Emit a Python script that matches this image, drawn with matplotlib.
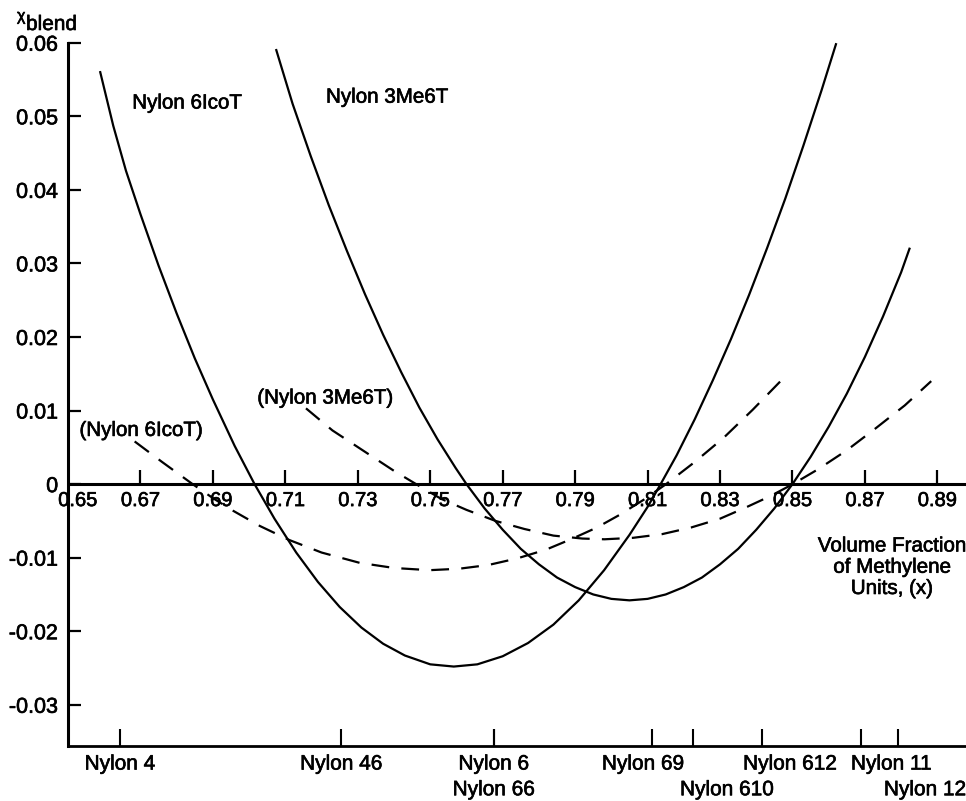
import numpy as np
import matplotlib
matplotlib.use("Agg")
import matplotlib.pyplot as plt
import matplotlib.patheffects as pe

plt.rcParams['font.family'] = ['Liberation Sans', 'DejaVu Sans']
plt.rcParams['axes.unicode_minus'] = False

# ---------- data ----------
# solid: Nylon 6IcoT
icot_x = [0.6589, 0.6625, 0.6660, 0.6700, 0.6750, 0.6800, 0.6850, 0.6900, 0.6960, 0.7015,
          0.7070, 0.7130, 0.7190, 0.7250, 0.7310, 0.7370, 0.7430, 0.7500, 0.7565, 0.7630,
          0.7700, 0.7770, 0.7840, 0.7910, 0.7980, 0.8050, 0.8100, 0.8136, 0.8180, 0.8230,
          0.8280, 0.8330, 0.8380, 0.8430, 0.8480, 0.8530, 0.8580, 0.8620]
icot_y = [0.0560, 0.0487, 0.0426, 0.0367, 0.0297, 0.0232, 0.0171, 0.0115, 0.0052, 0.0000,
          -0.0047, -0.0093, -0.0133, -0.0167, -0.0195, -0.0217, -0.0233, -0.0245, -0.0248, -0.0245,
          -0.0234, -0.0216, -0.0191, -0.0158, -0.0117, -0.0069, -0.0031, 0.0000, 0.0039, 0.0088,
          0.0141, 0.0197, 0.0257, 0.0321, 0.0388, 0.0460, 0.0535, 0.0598]

# solid: Nylon 3Me6T
me6t_x = [0.7075, 0.7120, 0.7170, 0.7220, 0.7270, 0.7320, 0.7370, 0.7420, 0.7470, 0.7520,
          0.7570, 0.7600, 0.7650, 0.7700, 0.7750, 0.7800, 0.7850, 0.7900, 0.7950, 0.8000,
          0.8050, 0.8100, 0.8150, 0.8200, 0.8250, 0.8300, 0.8350, 0.8400, 0.8450, 0.8500,
          0.8550, 0.8600, 0.8650, 0.8700, 0.8750, 0.8800, 0.8823]
me6t_y = [0.0590, 0.0517, 0.0446, 0.0379, 0.0317, 0.0258, 0.0203, 0.0152, 0.0104, 0.0061,
          0.0022, 0.0000, -0.0033, -0.0062, -0.0088, -0.0109, -0.0127, -0.0140, -0.0150, -0.0156,
          -0.0158, -0.0156, -0.0150, -0.0140, -0.0127, -0.0109, -0.0088, -0.0062, -0.0033, 0.0000,
          0.0037, 0.0078, 0.0123, 0.0173, 0.0228, 0.0288, 0.0320]

# dashed: (Nylon 6IcoT)
icot_d_x = [0.6684, 0.6760, 0.6844, 0.6900, 0.6955, 0.7030, 0.7111, 0.7200, 0.7305, 0.7400,
            0.7498, 0.7580, 0.7660, 0.7740, 0.7820, 0.7893, 0.7960, 0.8022, 0.8090, 0.8151,
            0.8230, 0.8310, 0.8390, 0.8473]
icot_d_y = [0.0058, 0.0030, 0.0000, -0.0019, -0.0036, -0.0057, -0.0076, -0.0093, -0.0107, -0.0114,
            -0.0117, -0.0115, -0.0110, -0.0101, -0.0089, -0.0074, -0.0059, -0.0042, -0.0021, 0.0000,
            0.0030, 0.0063, 0.0101, 0.0143]

# dashed: (Nylon 3Me6T)
me6t_d_x = [0.7157, 0.7230, 0.7332, 0.7400, 0.7461, 0.7530, 0.7600, 0.7680, 0.7760, 0.7840,
            0.7920, 0.7981, 0.8060, 0.8140, 0.8220, 0.8300, 0.8370, 0.8440, 0.8501, 0.8570,
            0.8650, 0.8730, 0.8810, 0.8883]
me6t_d_y = [0.0103, 0.0073, 0.0040, 0.0018, 0.0000, -0.0020, -0.0035, -0.0050, -0.0061, -0.0070,
            -0.0074, -0.0075, -0.0073, -0.0068, -0.0059, -0.0047, -0.0032, -0.0016, 0.0000, 0.0020,
            0.0046, 0.0076, 0.0107, 0.0140]

x_ticks = [0.65, 0.67, 0.69, 0.71, 0.73, 0.75, 0.77, 0.79, 0.81, 0.83, 0.85, 0.87, 0.89]
y_ticks = [0.06, 0.05, 0.04, 0.03, 0.02, 0.01, 0.0, -0.01, -0.02, -0.03]
y_labels = ["0.06", "0.05", "0.04", "0.03", "0.02", "0.01", "0", "-0.01", "-0.02", "-0.03"]

nylon_names = ["Nylon 4", "Nylon 46", "Nylon 6", "Nylon 66", "Nylon 69",
               "Nylon 610", "Nylon 612", "Nylon 11", "Nylon 12"]
nylon_x = [0.6644, 0.7255, 0.7676, 0.7676, 0.8113, 0.8226, 0.8417, 0.8688, 0.8792]
# label placement (row, horizontal shift in points)
nylon_row = [0, 0, 0, 1, 0, 1, 0, 0, 1]
nylon_dx = [0, 0, 0, 0, -6.5, 24.5, 20, 22.3, 19.4]

# heavier "scanned print" look for the lettering
ink = [pe.withStroke(linewidth=0.45, foreground="black")]

# ---------- figure ----------
fig = plt.figure(figsize=(9.66, 8.01), dpi=100)
ax = fig.add_axes([68 / 966, 55 / 801, 898 / 966, (746 - 42) / 801])
ymin, ymax = -0.0356, 0.0601
ax.set_xlim(0.65, 0.8979)
ax.set_ylim(ymin, ymax)

lw = 1.6
ax.plot(icot_x, icot_y, color="black", lw=lw, clip_on=False)
ax.plot(me6t_x, me6t_y, color="black", lw=lw, clip_on=False)
ax.plot(icot_d_x, icot_d_y, color="black", lw=lw, dashes=(8, 5.5), clip_on=False)
ax.plot(me6t_d_x, me6t_d_y, color="black", lw=lw, dashes=(8, 5.5), clip_on=False)

# zero line acting as x axis
ax.axhline(0, color="black", lw=2.2)
ax.vlines(x_ticks[1:], 0, 0.0019, color="black", lw=1.6)
for i, xt in enumerate(x_ticks):
    dx = 7 if i == 0 else 0
    ax.annotate(f"{xt:.2f}", (xt, 0), xytext=(dx, -5), textcoords="offset points",
                ha="center", va="top", fontsize=14.5, path_effects=ink)

# spines / y axis
for s in ["top", "right"]:
    ax.spines[s].set_visible(False)
ax.spines["left"].set_linewidth(2.2)
ax.spines["bottom"].set_linewidth(2.0)
ax.spines["left"].set_bounds(ymin, 0.06)
ax.set_xticks([])
ax.set_yticks(y_ticks)
ax.set_yticklabels(y_labels, fontsize=15.5)
for lbl in ax.get_yticklabels():
    lbl.set_path_effects(ink)
ax.tick_params(axis="y", direction="in", length=9.5, width=1.6, pad=7)

# nylon markers on bottom line
ax.vlines(nylon_x, ymin, ymin + 0.0023, color="black", lw=1.5)
for name, xn, row, dx in zip(nylon_names, nylon_x, nylon_row, nylon_dx):
    dy = -13 if row == 0 else -31.5
    ax.annotate(name, (xn, ymin), xytext=(dx, dy), textcoords="offset points",
                ha="center", va="center", fontsize=15, annotation_clip=False,
                path_effects=ink)

# curve labels
ax.text(0.6828, 0.0518, "Nylon 6IcoT", ha="center", va="center", fontsize=14.8, path_effects=ink)
ax.text(0.7380, 0.0526, "Nylon 3Me6T", ha="center", va="center", fontsize=14.8, path_effects=ink)
ax.text(0.7209, 0.0117, "(Nylon 3Me6T)", ha="center", va="center", fontsize=14.8, path_effects=ink)
ax.text(0.6701, 0.0073, "(Nylon 6IcoT)", ha="center", va="center", fontsize=14.8, path_effects=ink)
ax.text(0.8774, -0.0113, "Volume Fraction\nof Methylene\nUnits, (x)", ha="center", va="center",
        fontsize=14.8, linespacing=1.15, clip_on=False, path_effects=ink)

# y axis title
fig.text(17 / 966, 1 - 20.5 / 801, "\u03c7", fontsize=11.5, ha="left", va="baseline", path_effects=ink)
fig.text(26 / 966, 1 - 30 / 801, "blend", fontsize=15, ha="left", va="baseline", path_effects=ink)

fig.savefig("out.png", dpi=100)
